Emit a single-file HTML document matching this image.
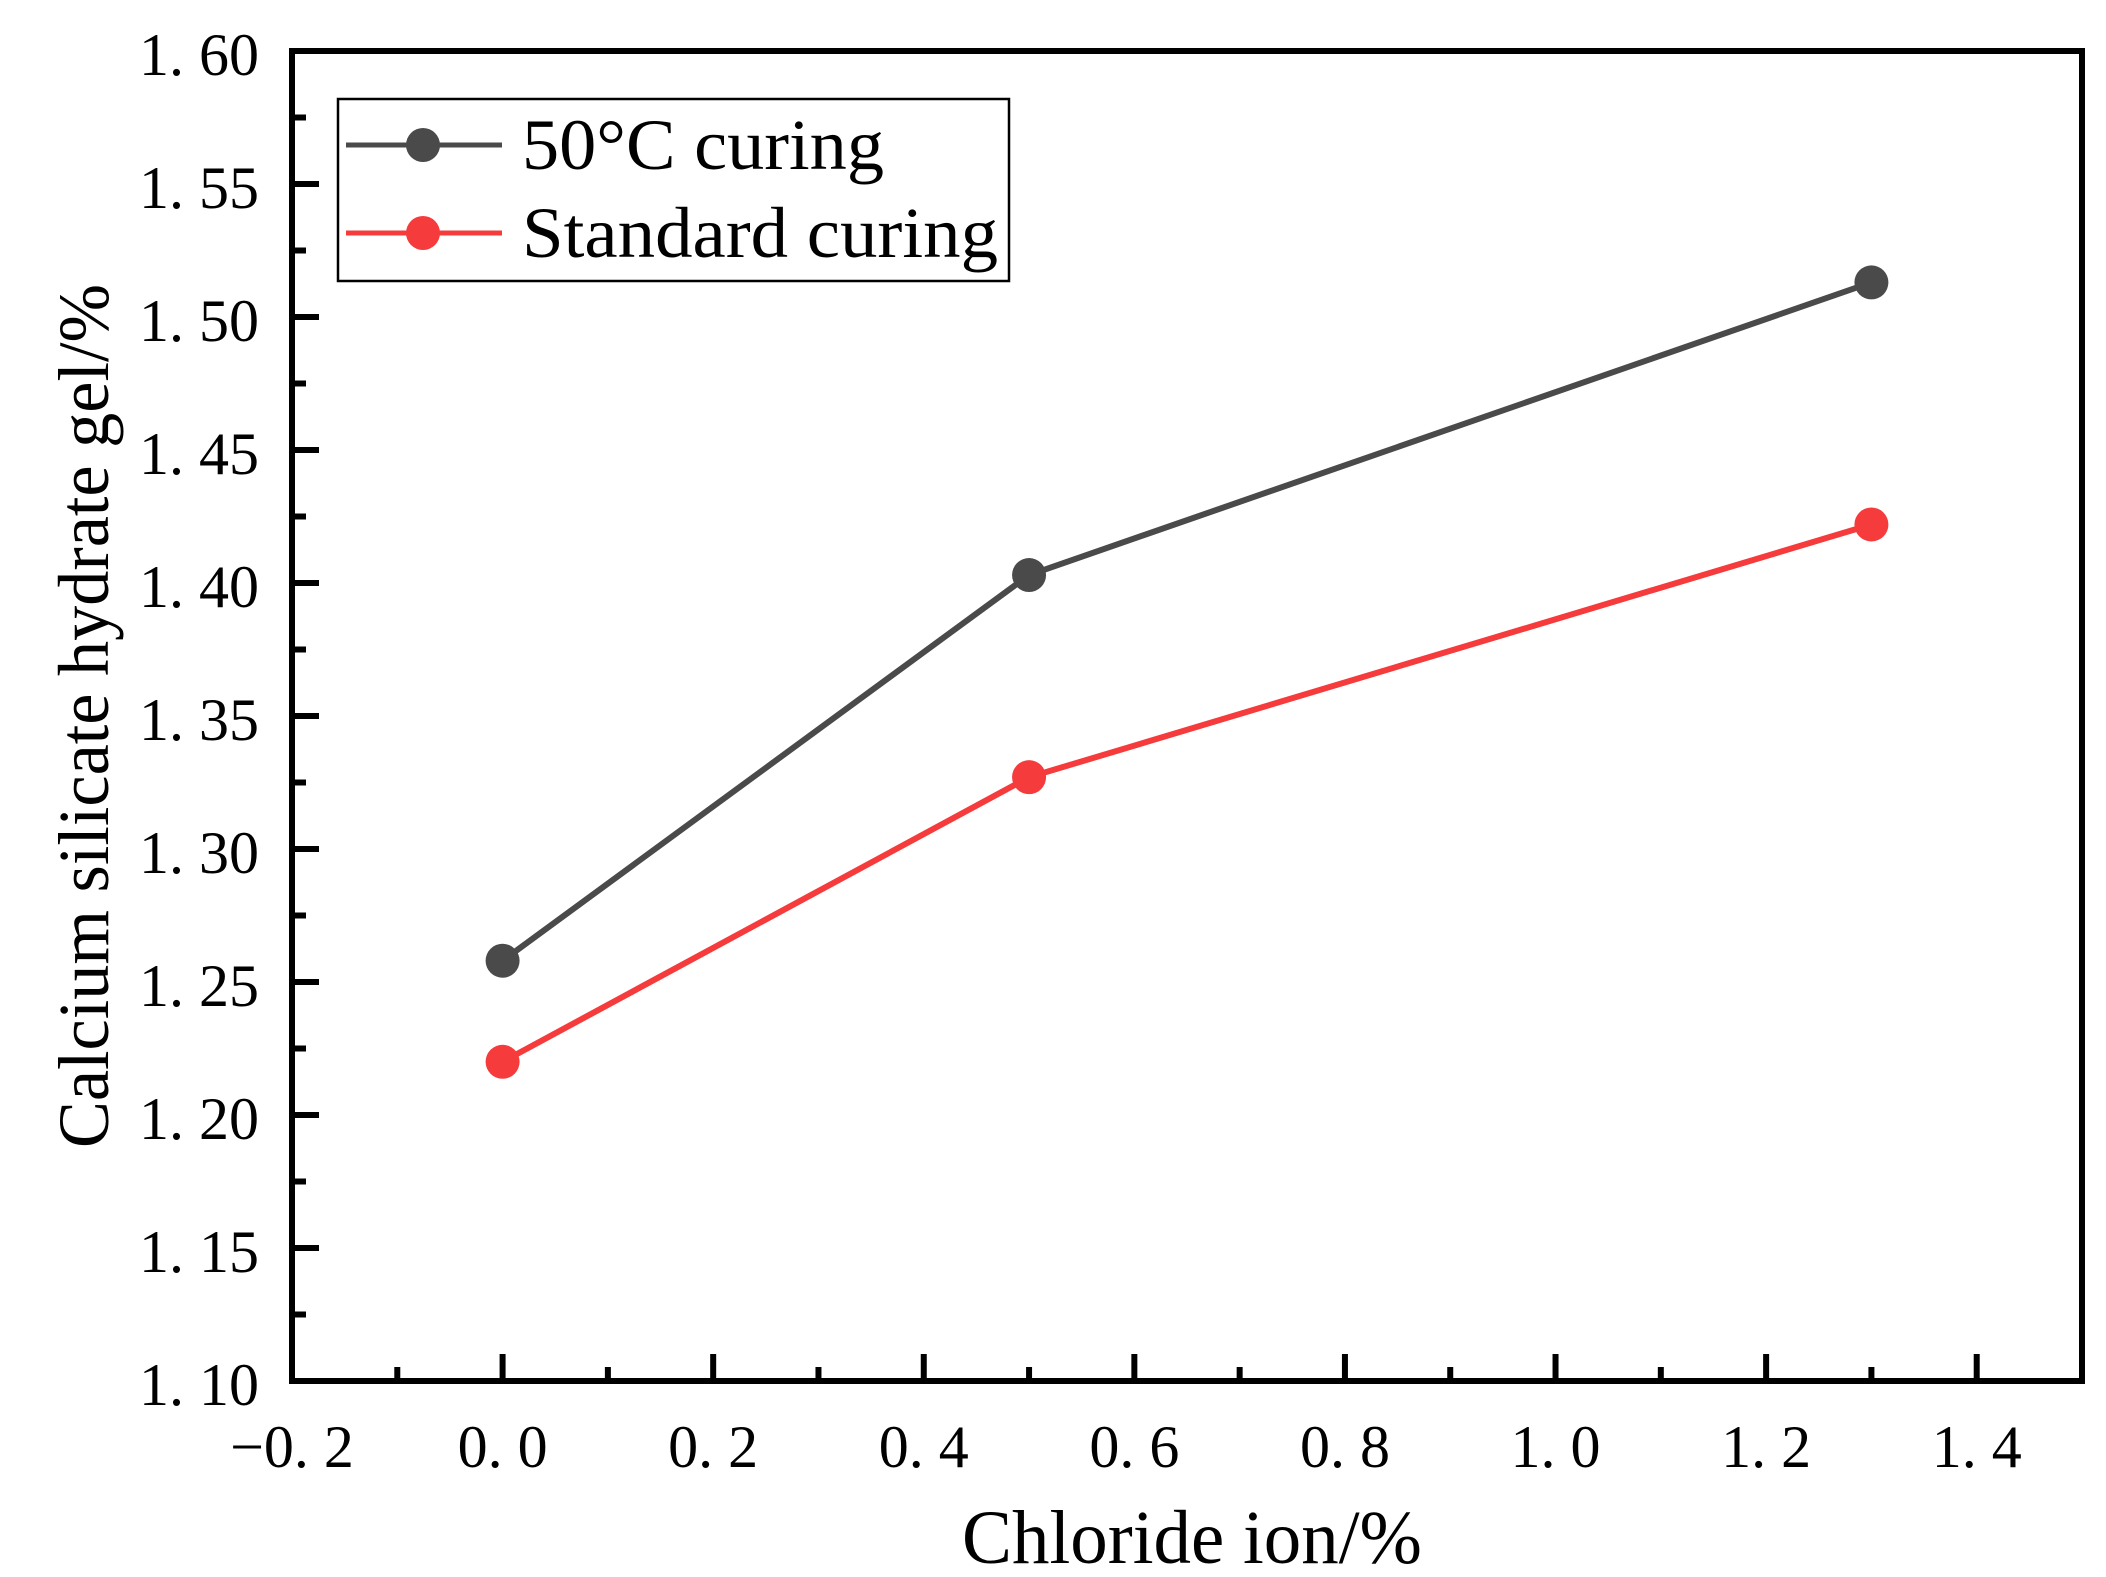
<!DOCTYPE html>
<html><head><meta charset="utf-8"><style>body{margin:0;background:#fff}svg{display:block}</style></head>
<body>
<svg id="chart" width="2106" height="1577" xmlns="http://www.w3.org/2000/svg" font-family="'Liberation Serif', serif"></svg>
<script>
const xValues = [0, 0.5, 1.3];
const series50 = [1.258, 1.403, 1.513];
const seriesStd = [1.220, 1.327, 1.422];
const xTicks = [-0.2, 0, 0.2, 0.4, 0.6, 0.8, 1.0, 1.2, 1.4];
const xTickLabels = ["-0. 2","0. 0","0. 2","0. 4","0. 6","0. 8","1. 0","1. 2","1. 4"];
const yTicks = [1.10,1.15,1.20,1.25,1.30,1.35,1.40,1.45,1.50,1.55,1.60];
const yTickLabels = ["1. 10","1. 15","1. 20","1. 25","1. 30","1. 35","1. 40","1. 45","1. 50","1. 55","1. 60"];

const L=292,R=2082,T=51,B=1381;
const x0=-0.2,x1=1.5,y0=1.10,y1=1.60;
const sx=v=>L+(v-x0)/(x1-x0)*(R-L);
const sy=v=>B-(v-y0)/(y1-y0)*(B-T);
const svg=document.getElementById('chart');
const NS='http://www.w3.org/2000/svg';
function mk(tag,attrs,parent){const e=document.createElementNS(NS,tag);for(const k in attrs)e.setAttribute(k,attrs[k]);(parent||svg).appendChild(e);return e;}

xTicks.forEach((v,i)=>{
  const t=mk('line',{x1:sx(v),x2:sx(v),y1:B,y2:B-27,stroke:'#000','stroke-width':6});
  
  
  if(i<xTicks.length-1){const m=(v+xTicks[i+1])/2;
    const mt=mk('line',{x1:sx(m),x2:sx(m),y1:B,y2:B-14,stroke:'#000','stroke-width':6});
    
    }
  const tx=mk('text',{x:sx(v),y:1467,'font-size':60,'text-anchor':'middle'});
  tx.textContent=xTickLabels[i].replace('-','\u2212');
  
  
});
yTicks.forEach((v,i)=>{
  const t=mk('line',{x1:L,x2:L+27,y1:sy(v),y2:sy(v),stroke:'#000','stroke-width':6});
  
  
  if(i<yTicks.length-1){const m=(v+yTicks[i+1])/2;
    const mt=mk('line',{x1:L,x2:L+14,y1:sy(m),y2:sy(m),stroke:'#000','stroke-width':6});
    
    }
  const tx=mk('text',{x:259,y:sy(v)+24,'font-size':60,'text-anchor':'end'});
  tx.textContent=yTickLabels[i];
  
  
});
const frame=mk('rect',{x:L,y:T,width:R-L,height:B-T,fill:'none',stroke:'#000','stroke-width':6});



function drawSeries(vals,color,name){
  const pts=xValues.map((x,i)=>sx(x)+','+sy(vals[i])).join(' ');
  const pl=mk('polyline',{points:pts,fill:'none',stroke:color,'stroke-width':6});
  
  
  xValues.forEach((x,i)=>{
    const c=mk('circle',{cx:sx(x),cy:sy(vals[i]),r:17,fill:color});
    
    
  });
}
drawSeries(series50,'#4a4a4a','series-50c');
drawSeries(seriesStd,'#f53b3b','series-standard');

const lg=mk('rect',{x:338,y:99,width:671,height:182,fill:'#fff',stroke:'#000','stroke-width':2.5});


[['50°C curing','#4a4a4a',145,362],['Standard curing','#f53b3b',233,476]].forEach(([lab,col,y,w])=>{
  const l=mk('line',{x1:346,x2:502,y1:y,y2:y,stroke:col,'stroke-width':5});
  
  
  const c=mk('circle',{cx:423,cy:y,r:17,fill:col});
  
  
  const t=mk('text',{x:522,y:y+24,'font-size':72,textLength:w,lengthAdjust:'spacingAndGlyphs'});
  t.textContent=lab;
  
  
});

const xt=mk('text',{x:962,y:1563,'font-size':76,textLength:460,lengthAdjust:'spacingAndGlyphs'});
xt.textContent='Chloride ion/%';


const yt=mk('text',{x:0,y:0,'font-size':72,'text-anchor':'middle',textLength:864,lengthAdjust:'spacingAndGlyphs',transform:'translate(108,716) rotate(-90)'});
yt.textContent='Calcium silicate hydrate gel/%';


</script>
</body></html>
